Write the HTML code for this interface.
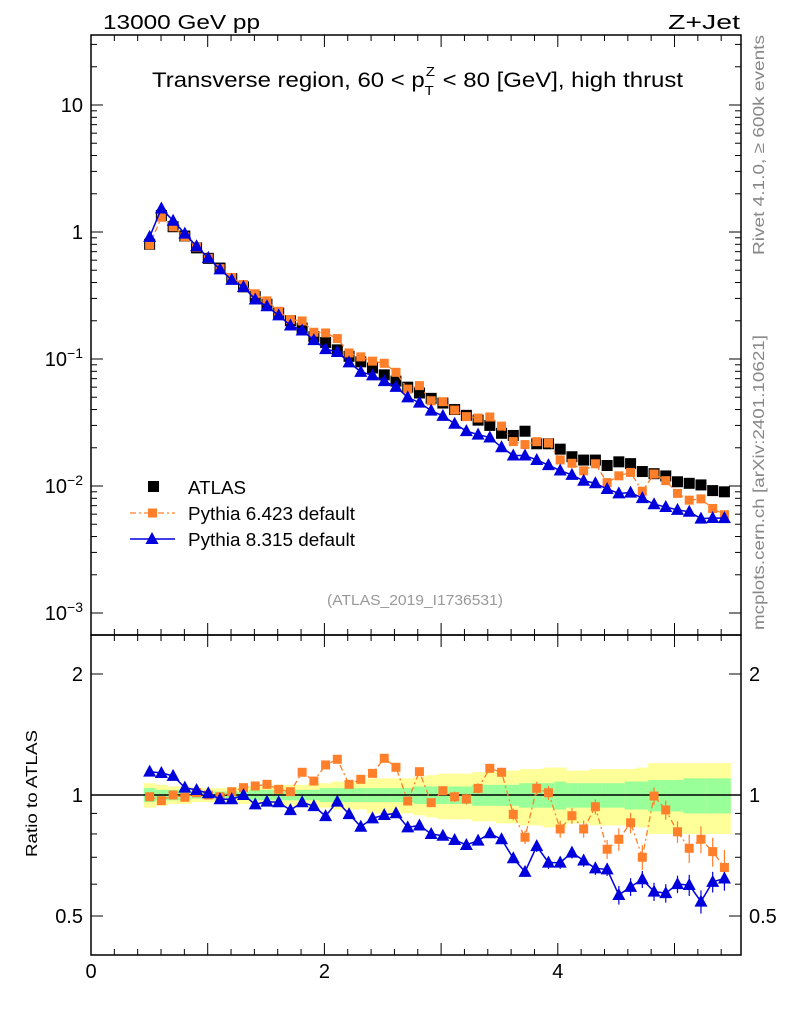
<!DOCTYPE html>
<html><head><meta charset="utf-8"><style>
body{margin:0;background:#fff;}
svg{display:block;font-family:"Liberation Sans",sans-serif;}
</style></head><body>
<svg id="c" width="786" height="1024" viewBox="0 0 786 1024"></svg>
<script>
const xCenters=[0.5,0.6,0.7,0.8,0.9,1.0,1.1,1.2,1.3,1.4,1.5,1.6,1.7,1.8,1.9,2.0,2.1,2.2,2.3,2.4,2.5,2.6,2.7,2.8,2.9,3.0,3.1,3.2,3.3,3.4,3.5,3.6,3.7,3.8,3.9,4.0,4.1,4.2,4.3,4.4,4.5,4.6,4.7,4.8,4.9,5.0,5.1,5.2,5.3,5.4];
const atlas=[0.8,1.35,1.1,0.93,0.75,0.62,0.52,0.43,0.37,0.31,0.27,0.23,0.2,0.175,0.15,0.135,0.118,0.105,0.095,0.085,0.075,0.067,0.06,0.054,0.049,0.045,0.04,0.036,0.033,0.03,0.026,0.025,0.027,0.0215,0.0215,0.0195,0.017,0.016,0.016,0.0145,0.0155,0.015,0.013,0.0125,0.012,0.0108,0.0105,0.0102,0.0092,0.009];
const ratioP8=[1.143,1.134,1.116,1.043,1.029,1.01,0.976,0.976,1.0,0.948,0.963,0.959,0.917,0.959,0.938,0.886,0.963,0.896,0.834,0.875,0.892,0.901,0.831,0.84,0.8,0.792,0.773,0.751,0.77,0.803,0.776,0.696,0.644,0.746,0.679,0.679,0.719,0.687,0.657,0.653,0.564,0.591,0.617,0.575,0.57,0.6,0.597,0.543,0.608,0.62];
const ratioP6=[0.99,0.968,1.0,0.987,1.013,1.0,0.99,1.019,1.043,1.053,1.063,1.033,1.019,1.139,1.083,1.188,1.227,1.063,1.094,1.132,1.234,1.172,0.966,1.143,0.957,1.025,0.99,0.977,1.039,1.165,1.139,0.895,0.785,1.039,1.013,0.823,0.888,0.823,0.935,0.733,0.776,0.853,0.7,0.994,0.918,0.81,0.737,0.776,0.723,0.66];
const bandIn=[0.04,0.03,0.03,0.03,0.02,0.02,0.02,0.02,0.02,0.03,0.03,0.03,0.03,0.03,0.03,0.04,0.04,0.04,0.04,0.04,0.04,0.04,0.04,0.05,0.05,0.05,0.05,0.05,0.06,0.06,0.06,0.06,0.07,0.07,0.07,0.08,0.07,0.07,0.07,0.07,0.07,0.08,0.08,0.09,0.09,0.09,0.1,0.1,0.1,0.1];
const bandOut=[0.07,0.06,0.05,0.05,0.04,0.04,0.04,0.04,0.05,0.05,0.05,0.06,0.06,0.06,0.07,0.07,0.08,0.08,0.08,0.1,0.1,0.1,0.1,0.11,0.12,0.13,0.13,0.13,0.14,0.14,0.15,0.15,0.16,0.16,0.17,0.17,0.15,0.15,0.16,0.16,0.16,0.16,0.17,0.2,0.2,0.2,0.2,0.2,0.2,0.2];
const errP6=[0.01,0.01,0.01,0.01,0.01,0.01,0.01,0.01,0.01,0.01,0.01,0.01,0.01,0.015,0.015,0.015,0.015,0.02,0.02,0.02,0.02,0.02,0.02,0.02,0.02,0.025,0.03,0.03,0.03,0.03,0.03,0.03,0.03,0.04,0.04,0.04,0.04,0.04,0.04,0.04,0.05,0.05,0.05,0.05,0.05,0.05,0.06,0.06,0.06,0.07];
const mainTicks=["10^-3","10^-2","10^-1","1","10"];
const ratioTicks=[0.5,1,2];
const xTicks=[0,2,4];

const NS="http://www.w3.org/2000/svg";
const svg=document.getElementById('c');
function el(t,a,p){const e=document.createElementNS(NS,t);for(const k in a)e.setAttribute(k,a[k]);(p||svg).appendChild(e);return e;}
const X0=91,X1=741,MY0=35,MY1=635,RY1=955;
const xs=v=>X0+v*117.3;
const ym=v=>232-127*Math.log10(v);
const yr=v=>795-402*Math.log10(v);

const gB=el('g',{});

xCenters.forEach((c,i)=>{
  const a=xs(c-0.05),w=xs(c+0.05)-a;
  const r=el('rect',{x:a,y:yr(1+bandOut[i]),width:w+0.5,height:yr(1-bandOut[i])-yr(1+bandOut[i]),fill:'#ffff99'},gB);
  
  const r2=el('rect',{x:a,y:yr(1+bandIn[i]),width:w+0.5,height:yr(1-bandIn[i])-yr(1+bandIn[i]),fill:'#99ff99'},gB);
  
});
el('line',{x1:X0,x2:X1,y1:yr(1),y2:yr(1),stroke:'#000','stroke-width':1.5});

const f1=el('rect',{x:X0,y:MY0,width:X1-X0,height:MY1-MY0,fill:'none',stroke:'#000','stroke-width':1.5});

const f2=el('rect',{x:X0,y:MY1,width:X1-X0,height:RY1-MY1,fill:'none',stroke:'#000','stroke-width':1.5});


for(let d=-3;d<=1;d++){
  for(let m=1;m<10;m++){
    const v=m*Math.pow(10,d),y=ym(v);
    if(y<MY0||y>MY1)continue;
    const L=m==1?12:6;
    el('line',{x1:X0,x2:X0+L,y1:y,y2:y,stroke:'#000'});
    el('line',{x1:X1,x2:X1-L,y1:y,y2:y,stroke:'#000'});
  }
}
mainTicks.forEach((t,i)=>{
  const d=i-3,y=ym(Math.pow(10,d));
  const tx=el('text',{x:X0-8,y:y+7,'text-anchor':'end','font-size':20});
  
  if(d==0)tx.textContent='1';else if(d==1)tx.textContent='10';
  else{tx.textContent='10';const s=el('tspan',{dy:-8,'font-size':14},tx);s.textContent='\u2212'+(-d);}
});
[0.4,0.5,0.6,0.7,0.8,0.9,1,2].forEach(v=>{
  const y=yr(v),L=(v==0.5||v==1||v==2)?12:6;
  el('line',{x1:X0,x2:X0+L,y1:y,y2:y,stroke:'#000'});
  el('line',{x1:X1,x2:X1-L,y1:y,y2:y,stroke:'#000'});
});
ratioTicks.forEach(v=>{
  const y=yr(v);
  const a=el('text',{x:X0-8,y:y+7,'text-anchor':'end','font-size':20});a.textContent=v;
  
  const b=el('text',{x:X1+8,y:y+7,'text-anchor':'start','font-size':20});b.textContent=v;
  
});
for(let v=0;v<=5.5;v+=0.2){
  const x=91+v*116.7,maj=Math.abs(v-Math.round(v))<1e-6,L=maj?12:6;
  [MY0,MY1].forEach(y=>el('line',{x1:x,x2:x,y1:y,y2:y+L,stroke:'#000'}));
  [MY1,RY1].forEach(y=>el('line',{x1:x,x2:x,y1:y,y2:y-L,stroke:'#000'}));
}
xTicks.forEach(v=>{const t=el('text',{x:91+v*116.7,y:978,'text-anchor':'middle','font-size':20});t.textContent=v;
  });

function tri(x,y,c,g){return el('polygon',{points:`${x},${y-7} ${x-6.5},${y+5} ${x+6.5},${y+5}`,fill:c},g);}
const p8m=xCenters.map((c,i)=>[xs(c),ym(atlas[i]*ratioP8[i])]);
const p6m=xCenters.map((c,i)=>[xs(c),ym(atlas[i]*ratioP6[i])]);
const gA=el('g',{});
xCenters.forEach((c,i)=>{const r=el('rect',{x:xs(c)-5.5,y:ym(atlas[i])-5.5,width:11,height:11,fill:'#000'},gA);
  });
const l6=el('polyline',{points:p6m.join(' '),fill:'none',stroke:'#ff7f2a','stroke-width':1.3,'stroke-dasharray':'6,3,2,3'});

p6m.forEach(p=>{const r=el('rect',{x:p[0]-4.5,y:p[1]-4.5,width:9,height:9,fill:'#ff7f2a'});
  });
const l8=el('polyline',{points:p8m.join(' '),fill:'none',stroke:'#0000dd','stroke-width':1.5});

p8m.forEach(p=>{const t=tri(p[0],p[1],'#0000dd');});

const p6r=xCenters.map((c,i)=>[xs(c),yr(ratioP6[i])]);
const p8r=xCenters.map((c,i)=>[xs(c),yr(ratioP8[i])]);
xCenters.forEach((c,i)=>{const x=xs(c);
  el('line',{x1:x,x2:x,y1:yr(ratioP6[i]+errP6[i]),y2:yr(ratioP6[i]-errP6[i]),stroke:'#ff7f2a','stroke-width':1.2});
  el('line',{x1:x,x2:x,y1:yr(ratioP8[i]+errP6[i]*0.6),y2:yr(ratioP8[i]-errP6[i]*0.6),stroke:'#0000dd','stroke-width':1.2});
});
const r6=el('polyline',{points:p6r.join(' '),fill:'none',stroke:'#ff7f2a','stroke-width':1.3,'stroke-dasharray':'6,3,2,3'});

p6r.forEach(p=>{const r=el('rect',{x:p[0]-4.5,y:p[1]-4.5,width:9,height:9,fill:'#ff7f2a'});
  });
const r8=el('polyline',{points:p8r.join(' '),fill:'none',stroke:'#0000dd','stroke-width':1.5});

p8r.forEach(p=>{const t=tri(p[0],p[1],'#0000dd');});

function txt(x,y,s,fs,attrs,name,len){const a=Object.assign({x:x,y:y,'font-size':fs},attrs||{});
  if(len){a.textLength=len;a.lengthAdjust='spacingAndGlyphs';}
  const t=el('text',a);t.textContent=s;
  return t;}
txt(103,29,'13000 GeV pp',20,{},'energy-label',157);
txt(668,29,'Z+Jet',20,{},'process-label',72);
const ti=el('text',{x:152,y:87,'font-size':21,textLength:531,lengthAdjust:'spacingAndGlyphs'});

const a1=el('tspan',{},ti);a1.textContent='Transverse region, 60 < p';
const s1=el('tspan',{dx:1,dy:-11,'font-size':13},ti);s1.textContent='Z';
const s2=el('tspan',{dx:-9,dy:19,'font-size':13},ti);s2.textContent='T';
const s3=el('tspan',{dx:2,dy:-8},ti);s3.textContent=' < 80 [GeV], high thrust';
txt(327,605,'(ATLAS_2019_I1736531)',15,{fill:'#999'},'analysis-id',176);
txt(0,0,'Rivet 4.1.0, \u2265 600k events',16,{fill:'#888',transform:'translate(764,255) rotate(-90)'},'rivet-version',220);
txt(0,0,'mcplots.cern.ch [arXiv:2401.10621]',16,{fill:'#888',transform:'translate(764,630) rotate(-90)'},'mcplots-credit',295);
txt(0,0,'Ratio to ATLAS',16,{transform:'translate(37,857) rotate(-90)'},'ratio-y-axis-title',127);

const lg=el('g',{});
el('rect',{x:148,y:481,width:11,height:11,fill:'#000'},lg);
txt(188,494,'ATLAS',18,{},'legend-atlas',58);
el('line',{x1:130,x2:175,y1:513,y2:513,stroke:'#ff7f2a','stroke-width':1.3,'stroke-dasharray':'6,3,2,3'},lg);
el('rect',{x:148,y:508.5,width:9,height:9,fill:'#ff7f2a'},lg);
txt(188,520,'Pythia 6.423 default',18,{},'legend-pythia6',167);
el('line',{x1:130,x2:175,y1:539,y2:539,stroke:'#0000dd','stroke-width':1.5},lg);
tri(152,539,'#0000dd',lg);
txt(188,546,'Pythia 8.315 default',18,{},'legend-pythia8',167);
</script>
</body></html>
